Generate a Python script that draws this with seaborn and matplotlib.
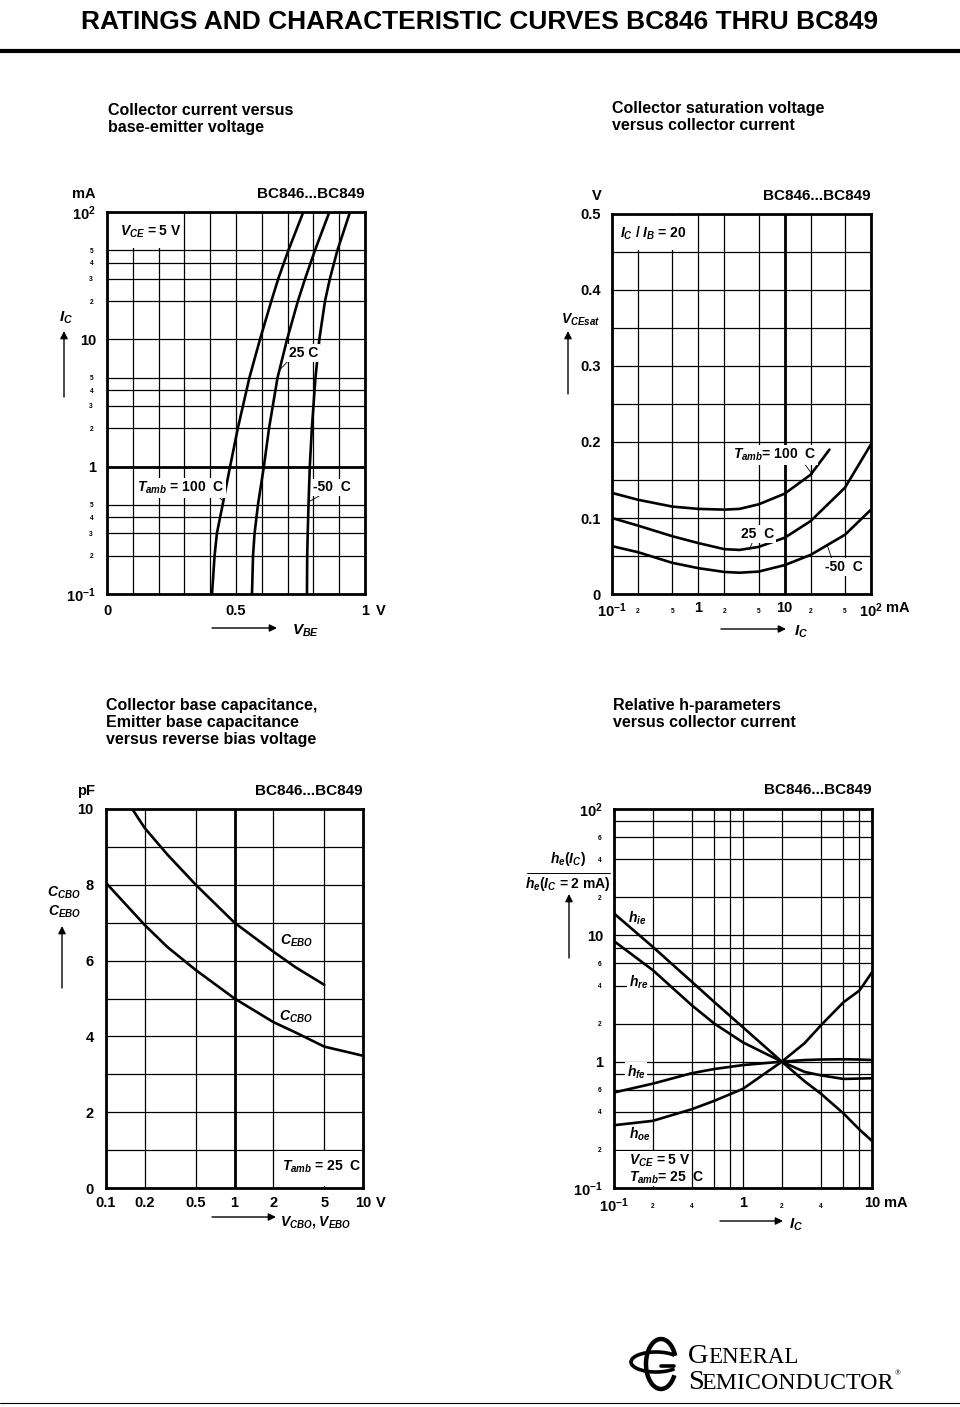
import matplotlib
matplotlib.use("Agg")
import matplotlib.pyplot as plt
from matplotlib.patches import Rectangle, Arc
import seaborn as sns

# ---------------- data ----------------
# Chart 1: collector current vs base-emitter voltage (VCE = 5 V)
ic_vbe_ma = [0.1, 0.2, 0.3, 0.5, 1, 2, 5, 10, 20, 30, 50, 100]
vbe_100c = [0.407, 0.417, 0.426, 0.448, 0.477, 0.507, 0.552, 0.593, 0.637, 0.664, 0.703, 0.761]
vbe_25c = [0.562, 0.566, 0.572, 0.585, 0.608, 0.628, 0.661, 0.698, 0.740, 0.768, 0.806, 0.862]
vbe_m50c = [0.775, 0.776, 0.778, 0.781, 0.786, 0.794, 0.808, 0.823, 0.845, 0.864, 0.893, 0.942]

# Chart 2: collector saturation voltage vs collector current (IC/IB = 20)
ic_sat_100c = [0.1, 0.2, 0.5, 1, 2, 3, 5, 10, 20, 33]
vcesat_100c = [0.133, 0.124, 0.115, 0.112, 0.111, 0.112, 0.118, 0.132, 0.157, 0.190]
ic_sat = [0.1, 0.2, 0.5, 1, 2, 3, 5, 10, 20, 50, 100]
vcesat_25c = [0.100, 0.090, 0.076, 0.067, 0.059, 0.058, 0.062, 0.074, 0.096, 0.140, 0.197]
vcesat_m50c = [0.063, 0.055, 0.041, 0.034, 0.029, 0.028, 0.0295, 0.038, 0.0515, 0.078, 0.111]

# Chart 3: capacitances vs reverse bias voltage
v_ebo = [0.16, 0.2, 0.3, 0.5, 1, 2, 3, 5]
c_ebo = [10.0, 9.5, 8.8, 8.0, 7.0, 6.24, 5.82, 5.36]
v_cbo = [0.1, 0.2, 0.3, 0.5, 1, 2, 3, 5, 10]
c_cbo = [8.05, 6.94, 6.36, 5.75, 5.0, 4.38, 4.1, 3.73, 3.49]

# Chart 4: relative h-parameters vs collector current
ic_h = [0.1, 0.2, 0.4, 0.6, 1, 2, 3, 4, 6, 8, 10]
h_ie = [14.9, 8.1, 4.3, 2.96, 1.87, 1.0, 0.70, 0.56, 0.39, 0.29, 0.236]
h_re = [9.0, 5.3, 2.8, 2.0, 1.42, 1.0, 0.83, 0.78, 0.73, 0.735, 0.74]
h_fe = [0.57, 0.67, 0.81, 0.875, 0.94, 1.0, 1.03, 1.04, 1.045, 1.04, 1.03]
h_oe = [0.314, 0.34, 0.42, 0.49, 0.61, 1.0, 1.4, 1.93, 2.95, 3.66, 5.1]

# ---------------- style ----------------
sns.set_theme(style="white")
plt.rcParams["font.family"] = ["Liberation Sans", "DejaVu Sans"]
plt.rcParams["font.weight"] = "bold"
plt.rcParams["mathtext.fontset"] = "custom"
plt.rcParams["mathtext.rm"] = "Liberation Sans:bold"
plt.rcParams["mathtext.it"] = "Liberation Sans:italic:bold"
plt.rcParams["mathtext.bf"] = "Liberation Sans:bold"
plt.rcParams["text.color"] = "black"
plt.rcParams["xtick.color"] = "black"
plt.rcParams["ytick.color"] = "black"

W, H = 960, 1407
fig = plt.figure(figsize=(W / 100, H / 100), dpi=100)
fig.patch.set_facecolor("white")


def add_ax(l, t, r, b):
    return fig.add_axes([l / W, 1 - b / H, (r - l) / W, (b - t) / H])


LW_CURVE = 1.9
FS = 10          # annotation text
FS_TICK = 10.5   # tick labels
FS_HEAD = 11     # BC846...BC849
FS_SMALL = 4.8
WHITE_BOX = dict(boxstyle="square,pad=0.12", fc="white", ec="none")
LEADER = dict(arrowstyle="-", lw=0.6, color="black", shrinkA=0, shrinkB=0)


def style(ax):
    for s in ax.spines.values():
        s.set_linewidth(2.0)
        s.set_color("black")
        s.set_visible(True)
    ax.grid(True, which="both", color="black", linewidth=0.9)
    ax.set_axisbelow(True)
    ax.set_xlabel("")
    ax.set_ylabel("")
    ax.set_facecolor("white")


def curve(ax, x, y):
    sns.lineplot(x=x, y=y, ax=ax, color="black", lw=LW_CURVE, sort=False,
                 estimator=None, legend=False, zorder=3)


def head(ax, unit, unit_dx):
    ax.annotate("BC846...BC849", xy=(1, 1), xycoords="axes fraction",
                xytext=(0, 13), textcoords="offset points", ha="right",
                va="center", fontsize=FS_HEAD)
    ax.annotate(unit, xy=(0, 1), xycoords="axes fraction",
                xytext=(unit_dx, 13), textcoords="offset points", ha="center",
                va="center", fontsize=FS_TICK)


sup = lambda e: r"$\mathrm{10^{%s}}$" % e

# ---------- Chart 1 ----------
ax1 = add_ax(107, 212, 365, 594)
ax1.set_yscale("log")
curve(ax1, vbe_100c, ic_vbe_ma)
curve(ax1, vbe_25c, ic_vbe_ma)
curve(ax1, vbe_m50c, ic_vbe_ma)
ax1.set_xlim(0, 1)
ax1.set_ylim(0.1, 100)
style(ax1)
ax1.set_xticks([0, 0.5, 1], ["0", "0.5", "1"])
ax1.set_xticks([0.1, 0.2, 0.3, 0.4, 0.6, 0.7, 0.8, 0.9], minor=True)
ax1.set_yticks([0.1, 1, 10, 100], [sup("-1"), "1", "10", sup("2")])
ax1.set_yticks([0.2, 0.3, 0.4, 0.5, 2, 3, 4, 5, 20, 30, 40, 50],
               ["2", "3", "4", "5"] * 3, minor=True)
ax1.tick_params(which="both", length=0)
ax1.tick_params(axis="x", which="major", pad=7, labelsize=FS_TICK)
ax1.tick_params(axis="y", which="major", pad=8, labelsize=FS_TICK)
ax1.tick_params(axis="y", which="minor", pad=10, labelsize=FS_SMALL)
ax1.axhline(1, color="black", lw=2.0, zorder=2)
ax1.add_patch(Rectangle((0.004, 52), 0.283, 46, fc="white", ec="none", zorder=1))
ax1.text(0.05, 70, r"$V_{CE}$ = 5 V", fontsize=FS, va="center", zorder=4)
ax1.annotate("25 C", xy=(0.667, 5.7), xytext=(0.706, 7.8), ha="left", va="center",
             fontsize=FS, bbox=WHITE_BOX, arrowprops=dict(LEADER, relpos=(0, 0)), zorder=4)
ax1.annotate(r"$T_{amb}$ = 100  C", xy=(0.452, 0.53), xytext=(0.116, 0.68),
             ha="left", va="center", fontsize=FS, bbox=WHITE_BOX,
             arrowprops=dict(LEADER, relpos=(0.93, 0)), zorder=4)
ax1.annotate("-50  C", xy=(0.782, 0.53), xytext=(0.798, 0.69), ha="left",
             va="center", fontsize=FS, bbox=WHITE_BOX,
             arrowprops=dict(LEADER, relpos=(0.25, 0)), zorder=4)
head(ax1, "mA", -17)
ax1.annotate("V", xy=(1, 0), xycoords="axes fraction", xytext=(7.5, -7),
             textcoords="offset points", ha="left", va="top", fontsize=FS_TICK)

# ---------- Chart 2 ----------
ax2 = add_ax(612, 214, 871, 594)
ax2.set_xscale("log")
curve(ax2, ic_sat_100c, vcesat_100c)
curve(ax2, ic_sat, vcesat_25c)
curve(ax2, ic_sat, vcesat_m50c)
ax2.set_xlim(0.1, 100)
ax2.set_ylim(0, 0.5)
style(ax2)
ax2.set_xticks([0.1, 1, 10, 100], [sup("-1"), "1", "10", sup("2")])
ax2.set_xticks([0.2, 0.5, 2, 5, 20, 50], ["2", "5"] * 3, minor=True)
ax2.set_yticks([0, 0.1, 0.2, 0.3, 0.4, 0.5], ["0", "0.1", "0.2", "0.3", "0.4", "0.5"])
ax2.set_yticks([0.05, 0.15, 0.25, 0.35, 0.45], minor=True)
ax2.tick_params(which="both", length=0)
ax2.tick_params(axis="x", which="major", pad=5, labelsize=FS_TICK)
ax2.tick_params(axis="x", which="minor", pad=10, labelsize=FS_SMALL)
ax2.tick_params(axis="y", which="major", pad=8, labelsize=FS_TICK)
ax2.axvline(10, color="black", lw=2.0, zorder=2)
ax2.add_patch(Rectangle((0.102, 0.452), 0.85, 0.046, fc="white", ec="none", zorder=1))
ax2.text(0.124, 0.474, r"$I_C$ / $I_B$ = 20", fontsize=FS, va="center", zorder=4)
ax2.annotate(r"$T_{amb}$= 100  C", xy=(21, 0.157), xytext=(2.55, 0.1826),
             ha="left", va="center", fontsize=FS, bbox=WHITE_BOX,
             arrowprops=dict(LEADER, relpos=(0.85, 0)), zorder=4)
ax2.annotate("25  C", xy=(3.9, 0.059), xytext=(3.16, 0.079), ha="left", va="center",
             fontsize=FS, bbox=WHITE_BOX, arrowprops=dict(LEADER, relpos=(0.35, 0)), zorder=4)
ax2.annotate("-50  C", xy=(31, 0.065), xytext=(29, 0.0357), ha="left", va="center",
             fontsize=FS, bbox=WHITE_BOX, arrowprops=dict(LEADER, relpos=(0.2, 1)), zorder=4)
head(ax2, "V", -11)
ax2.annotate("mA", xy=(1, 0), xycoords="axes fraction", xytext=(10.5, -5),
             textcoords="offset points", ha="left", va="top", fontsize=FS_TICK)

# ---------- Chart 3 ----------
ax3 = add_ax(106, 809, 363, 1188)
ax3.set_xscale("log")
curve(ax3, v_ebo, c_ebo)
curve(ax3, v_cbo, c_cbo)
ax3.set_xlim(0.1, 10)
ax3.set_ylim(0, 10)
style(ax3)
ax3.set_xticks([0.1, 0.2, 0.5, 1, 2, 5, 10], ["0.1", "0.2", "0.5", "1", "2", "5", "10"])
ax3.set_xticks([], minor=True)
ax3.set_yticks([0, 2, 4, 6, 8, 10], ["0", "2", "4", "6", "8", "10"])
ax3.set_yticks([1, 3, 5, 7, 9], minor=True)
ax3.tick_params(which="both", length=0)
ax3.tick_params(axis="x", which="major", pad=6, labelsize=FS_TICK)
ax3.tick_params(axis="y", which="major", pad=9, labelsize=FS_TICK)
ax3.axvline(1, color="black", lw=2.0, zorder=2)
ax3.add_patch(Rectangle((2.15, 0.05), 7.7, 0.92, fc="white", ec="none", zorder=1))
ax3.text(2.34, 0.55, r"$T_{amb}$ = 25  C", fontsize=FS, va="center", zorder=4)
ax3.text(2.26, 6.52, r"$C_{EBO}$", fontsize=FS, va="center", zorder=4)
ax3.text(2.2, 4.51, r"$C_{CBO}$", fontsize=FS, va="center", zorder=4)
head(ax3, "pF", -14.5)
ax3.annotate("V", xy=(1, 0), xycoords="axes fraction", xytext=(9, -6),
             textcoords="offset points", ha="left", va="top", fontsize=FS_TICK)

# ---------- Chart 4 ----------
ax4 = add_ax(614, 809, 872, 1188)
ax4.set_xscale("log")
ax4.set_yscale("log")
curve(ax4, ic_h, h_ie)
curve(ax4, ic_h, h_re)
curve(ax4, ic_h, h_fe)
curve(ax4, ic_h, h_oe)
ax4.set_xlim(0.1, 10)
ax4.set_ylim(0.1, 100)
style(ax4)
ax4.set_xticks([0.1, 1, 10], [sup("-1"), "1", "10"])
ax4.set_xticks([0.2, 0.4, 0.6, 0.8, 2, 4, 6, 8], ["2", "4", "", ""] * 2, minor=True)
ax4.set_yticks([0.1, 1, 10, 100], [sup("-1"), "1", "10", sup("2")])
ax4.set_yticks([0.2, 0.4, 0.6, 0.8, 2, 4, 6, 8, 20, 40, 60, 80],
               ["2", "4", "6", ""] * 3, minor=True)
ax4.tick_params(which="both", length=0)
ax4.tick_params(axis="x", which="major", pad=6, labelsize=FS_TICK)
ax4.tick_params(axis="x", which="minor", pad=11, labelsize=FS_SMALL)
ax4.tick_params(axis="y", which="major", pad=8, labelsize=FS_TICK)
ax4.tick_params(axis="y", which="minor", pad=9, labelsize=FS_SMALL)
ax4.add_patch(Rectangle((0.102, 0.104), 0.268, 0.091, fc="white", ec="none", zorder=1))
ax4.text(0.128, 13.6, r"$h_{ie}$", fontsize=FS, va="center", zorder=4)
ax4.text(0.13, 4.24, r"$h_{re}$", fontsize=FS, va="center", zorder=4, bbox=WHITE_BOX)
ax4.text(0.126, 0.82, r"$h_{fe}$", fontsize=FS, va="center", zorder=4, bbox=WHITE_BOX)
ax4.text(0.13, 0.268, r"$h_{oe}$", fontsize=FS, va="center", zorder=4)
ax4.text(0.13, 0.164, r"$V_{CE}$ = 5 V", fontsize=FS, va="center", zorder=4)
ax4.text(0.13, 0.12, r"$T_{amb}$= 25  C", fontsize=FS, va="center", zorder=4)
ax4.annotate("BC846...BC849", xy=(1, 1), xycoords="axes fraction",
             xytext=(0, 14), textcoords="offset points", ha="right",
             va="center", fontsize=FS_HEAD)
ax4.annotate("mA", xy=(1, 0), xycoords="axes fraction", xytext=(9, -6),
             textcoords="offset points", ha="left", va="top", fontsize=FS_TICK)

# ---------- page overlay (pixel coordinates) ----------
ov = fig.add_axes([0, 0, 1, 1])
ov.set_xlim(0, W)
ov.set_ylim(H, 0)
ov.axis("off")

ov.text(480, 22, "RATINGS AND CHARACTERISTIC CURVES BC846 THRU BC849",
        ha="center", va="center", fontsize=19, fontweight="bold")
ov.plot([0, W], [51, 51], color="black", lw=3)
ov.plot([0, W], [1403, 1403], color="black", lw=0.8)

sub_kw = dict(ha="left", va="top", fontsize=11.5, linespacing=1.15, fontweight="bold")
ov.text(108, 103, "Collector current versus\nbase-emitter voltage", **sub_kw)
ov.text(612, 101, "Collector saturation voltage\nversus collector current", **sub_kw)
ov.text(106, 698, "Collector base capacitance,\nEmitter base capacitance\nversus reverse bias voltage", **sub_kw)
ov.text(613, 698, "Relative h-parameters\nversus collector current", **sub_kw)

ARROW = dict(arrowstyle="-|>", lw=1.0, color="black", mutation_scale=11, shrinkA=0, shrinkB=0)


def arrow(x0, y0, x1, y1):
    ov.annotate("", xy=(x1, y1), xytext=(x0, y0), arrowprops=ARROW)


# chart 1 axis labels
ov.text(66, 318, r"$I_C$", ha="center", va="center", fontsize=FS + 1)
arrow(64, 397, 64, 331)
arrow(212, 628, 277, 628)
ov.text(292, 631, r"$V_{BE}$", ha="left", va="center", fontsize=FS + 1)
# chart 2
ov.text(581, 320, r"$V_{CEsat}$", ha="center", va="center", fontsize=FS)
arrow(568, 394, 568, 331)
arrow(721, 629, 786, 629)
ov.text(794, 632, r"$I_C$", ha="left", va="center", fontsize=FS + 1)
# chart 3
ov.text(64, 893, r"$C_{CBO}$", ha="center", va="center", fontsize=FS)
ov.text(64, 912, r"$C_{EBO}$", ha="center", va="center", fontsize=FS)
arrow(62, 988, 62, 926)
arrow(212, 1217, 276, 1217)
ov.text(280, 1222, r"$V_{CBO}$, $V_{EBO}$", ha="left", va="center", fontsize=FS)
# chart 4
ov.text(568, 859, r"$h_e$($I_C$)", ha="center", va="center", fontsize=FS)
ov.plot([527, 610], [873, 873], color="black", lw=0.7)
ov.text(568, 884, r"$h_e$($I_C$ = 2 mA)", ha="center", va="center", fontsize=FS)
arrow(569, 958, 569, 894)
arrow(720, 1221, 783, 1221)
ov.text(789, 1225, r"$I_C$", ha="left", va="center", fontsize=FS + 1)

# logo
serif = ["Liberation Serif", "DejaVu Serif"]
ov.text(688, 1363, "G", family=serif, fontweight="normal", fontsize=20.5, va="baseline", ha="left")
ov.text(708, 1363, "ENERAL", family=serif, fontweight="normal", fontsize=16.5, va="baseline", ha="left")
ov.text(688, 1389, "S", family=serif, fontweight="normal", fontsize=20.5, va="baseline", ha="left")
ov.text(701, 1389, "EMICONDUCTOR", family=serif, fontweight="normal", fontsize=17.2, va="baseline", ha="left")
ov.text(895, 1375, "®", family=serif, fontweight="normal", fontsize=5.5, va="baseline", ha="left")
ov.add_patch(Arc((656, 1362), 50, 20, theta1=20, theta2=340, lw=2.6, color="black"))
ov.add_patch(Arc((661, 1364), 30, 50, theta1=40, theta2=330, lw=3.2, color="black"))
ov.plot([661, 674], [1366, 1366], color="black", lw=2.6)

fig.savefig("out.png", dpi=100)
